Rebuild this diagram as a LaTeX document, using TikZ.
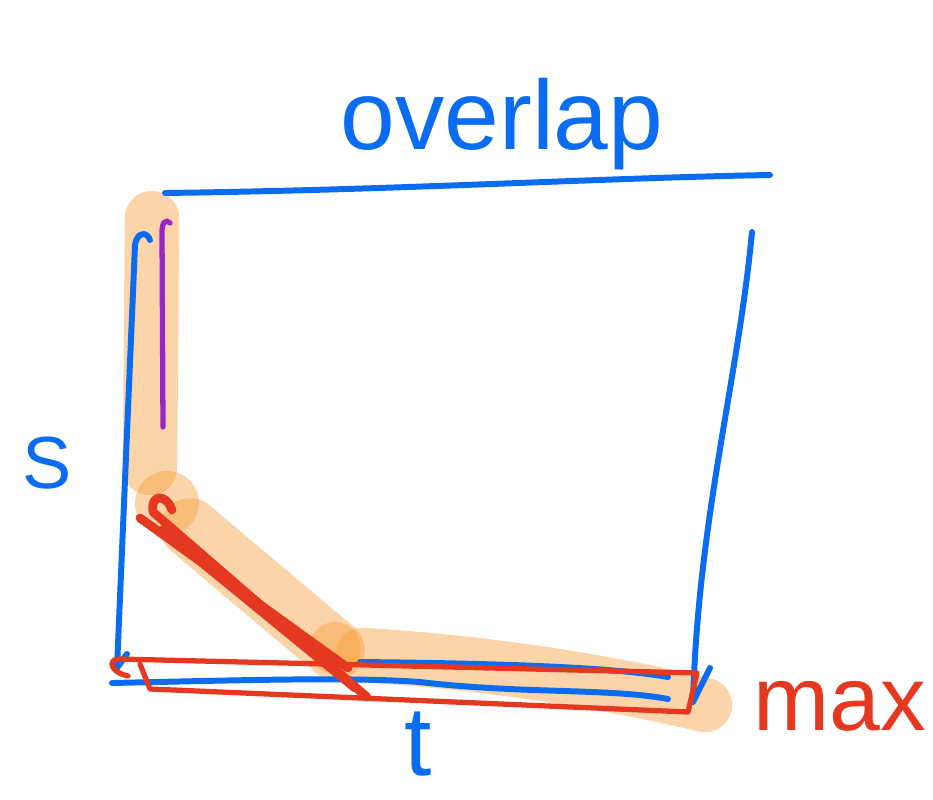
\documentclass[tikz,border=0pt]{standalone}
\usepackage{fontspec}
\setmainfont{Liberation Sans}
\definecolor{penblue}{RGB}{10,108,240}
\definecolor{penred}{RGB}{228,57,32}
\definecolor{penpurple}{RGB}{155,38,200}
\definecolor{markerorange}{RGB}{247,160,64}
\usetikzlibrary{calc}

\begin{document}
\begin{tikzpicture}[x=0.02cm, y=-0.02cm,
  bluepen/.style={draw=penblue, line width=3.4pt, line cap=round, line join=round},
  redpen/.style={draw=penred, line width=3pt, line cap=round, line join=round},
  purplepen/.style={draw=penpurple, line width=3pt, line cap=round},
  marker/.style={draw=markerorange, draw opacity=0.45, line width=31pt, line cap=round},
  markerblob/.style={fill=markerorange, fill opacity=0.45},
  handlabel/.style={inner sep=0pt, anchor=base},
]
\useasboundingbox (0,0) rectangle (933,800);

% Highlighter strokes
\draw[marker] (152,218) -- (150,468);
\fill[markerblob] (167,503) circle (32);
\draw[marker, line width=34pt] (190,528) -- (335,650);
\fill[markerblob] (335,648) circle (26);
\draw[marker] (362,655) .. controls (480,662) and (600,680) .. (705,705);

% Box
\draw[bluepen] (165,193) .. controls (400,190) and (600,178) .. (770,175);
\draw[bluepen] (150,240) .. controls (147,231) and (137,232) .. (135,245) -- (117,668) -- (127,654);
\draw[bluepen] (752,232) .. controls (738,380) and (698,520) .. (693,702) -- (710,668);
\draw[bluepen] (112,683) .. controls (250,680) and (350,677) .. (420,682)
  .. controls (520,694) and (610,688) .. (668,699);
\draw[bluepen] (360,662) .. controls (450,663) and (600,665) .. (668,677);

% Inner stroke
\draw[purplepen] (170,223) .. controls (166,219) and (162,222) .. (162,232) -- (163,427);

% Max path
\draw[redpen, line width=5pt] (140,518) -- (348,668);
\draw[redpen, line width=5pt] (172,510) .. controls (166,493) and (150,494) .. (153,512) -- (367,697);
\draw[redpen, line width=5pt] (162,530) -- (355,688);
\draw[redpen] (128,676) .. controls (110,672) and (108,660) .. (118,659) -- (697,673)
  -- (688,712) -- (150,689) -- (140,664);

% Labels
\node[handlabel, text=penblue, font=\fontsize{56}{58}\selectfont] (overlapLabel) at (502,150) {overlap};
\node[handlabel, text=penblue, font=\fontsize{42}{44}\selectfont] (sLabel) at (47,488) {S};
\node[handlabel, text=penblue, font=\fontsize{56}{58}\selectfont] (tLabel) at (418,775) {t};
\node[handlabel, text=penred, font=\fontsize{52}{54}\selectfont] (maxLabel) at (840,730) {max};

\end{tikzpicture}
\end{document}
